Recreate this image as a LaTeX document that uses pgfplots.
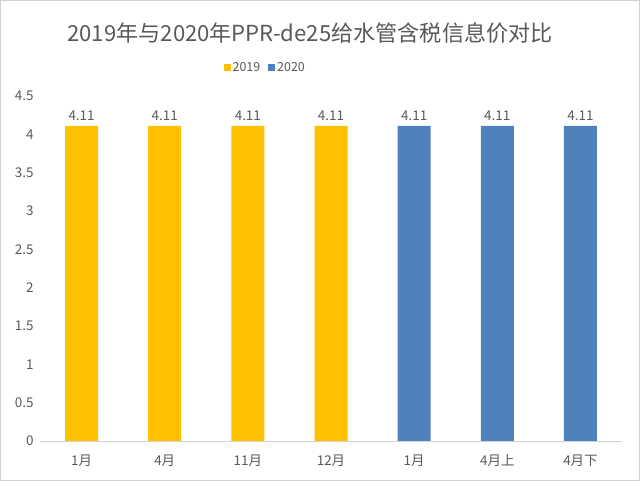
\documentclass[border=0pt]{standalone}
\usepackage{fontspec}
\setmainfont{Noto Sans CJK SC}
\usepackage{pgfplots}
\pgfplotsset{compat=1.18}
\definecolor{c19}{HTML}{FFC000}
\definecolor{c20}{HTML}{4F81BD}
\definecolor{txt}{HTML}{595959}
\begin{document}
\begin{tikzpicture}[x=1bp,y=1bp]
\fill[white] (0,0) rectangle (640,481);
\draw[color=black!18, line width=0.8bp] (0.5,0.5) rectangle (639.5,480.5);
\node[text=txt, font=\fontsize{22.2}{26}\selectfont] at (310,448) {2019年与2020年PPR-de25给水管含税信息价对比};
\begin{axis}[
  at={(40bp,40bp)}, anchor=south west,
  scale only axis, width=582bp, height=345bp,
  xmin=-0.5, xmax=6.5, ymin=0, ymax=4.5,
  ytick={0,0.5,...,4.5},
  xtick={0,...,6},
  xticklabels={1月,4月,11月,12月,1月,4月上,4月下},
  major tick length=0pt,
  separate axis lines,
  axis x line*=bottom, axis y line*=left,
  y axis line style={draw=none},
  x axis line style={draw=black!18, line width=0.8bp},
  /pgf/number format/assume math mode=true,
  /pgf/number format/fixed,
  tick label style={text=txt, font=\fontsize{13.5}{15}\selectfont},
  yticklabel style={xshift=-3bp},
  xticklabel style={yshift=-10bp},
  ybar, bar width=33bp, bar shift=0pt,
  nodes near coords,
  every node near coord/.append style={text=txt, font=\fontsize{13.5}{15}\selectfont, yshift=2bp,
     /pgf/number format/precision=2},
  legend columns=2,
  legend style={draw=none, at={(0.387,1.082)}, anchor=center, fill=none,
     font=\fontsize{12.5}{14}\selectfont, text=txt,
     /tikz/every even column/.append style={column sep=6bp}},
  legend image code/.code={\fill[#1] (0bp,-3.5bp) rectangle (7bp,3.5bp);},
]
\addplot[fill=c19, draw=none] coordinates {(0,4.11) (1,4.11) (2,4.11) (3,4.11)};
\addplot[fill=c20, draw=none] coordinates {(4,4.11) (5,4.11) (6,4.11)};
\legend{2019,2020}
\end{axis}
\end{tikzpicture}
\end{document}
